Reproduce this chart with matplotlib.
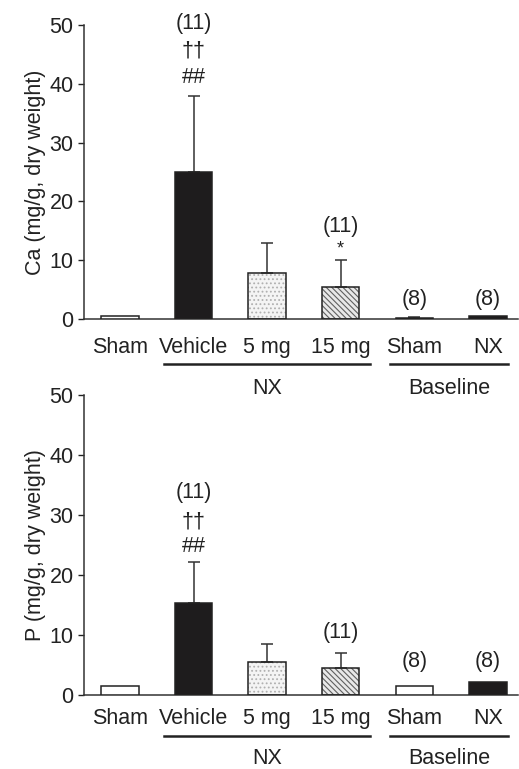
import matplotlib
matplotlib.use("Agg")
import matplotlib.pyplot as plt
import matplotlib.transforms as mtransforms

plt.rcParams['font.family'] = ['Liberation Sans', 'DejaVu Sans']
plt.rcParams['hatch.linewidth'] = 0.8

# ---- data ----
categories = ["Sham", "Vehicle", "5 mg", "15 mg", "Sham", "NX"]
ca_mean = [0.45, 25.0, 7.8, 5.5, 0.2, 0.5]
ca_err = [0.0, 13.0, 5.2, 4.6, 0.2, 0.0]
p_mean = [1.45, 15.3, 5.55, 4.5, 1.45, 2.2]
p_err = [0.0, 6.9, 2.9, 2.45, 0.0, 0.0]
ylabels = ["Ca (mg/g, dry weight)", "P (mg/g, dry weight)"]
yticks = [0, 10, 20, 30, 40, 50]
groups = ["NX", "Baseline"]
group_spans = [(0.60, 3.40), (3.67, 5.27)]

# annotations: (bar index, y value, text)
ca_annots = [(1, 50.2, "(11)"), (1, 45.6, "††"), (1, 41.0, "##"),
             (3, 15.7, "(11)"), (3, 12.0, "*"),
             (4, 3.4, "(8)"), (5, 3.4, "(8)")]
p_annots = [(1, 33.7, "(11)"), (1, 28.8, "††"), (1, 24.8, "##"),
            (3, 10.4, "(11)"), (4, 5.6, "(8)"), (5, 5.6, "(8)")]

# ---- style ----
FS = 15.5
faces = ["white", "#1e1c1d", "#f4f4f4", "#e8e8e8", "white", "#1e1c1d"]
hatches = [None, None, "....", "\\\\\\\\\\\\", None, None]
hatch_colors = [None, None, "#b0b0b0", "#606060", None, None]
bar_w = 0.51

fig = plt.figure(figsize=(5.19, 7.69), dpi=100)
ax1 = fig.add_axes([0.162, 0.585, 0.836, 0.3825])
ax2 = fig.add_axes([0.162, 0.0962, 0.836, 0.390])
ax2.patch.set_visible(False)
ax1.set_zorder(2)

panels = [(ax1, ca_mean, ca_err, ca_annots, ylabels[0], -0.151, -0.236, 13),
          (ax2, p_mean, p_err, p_annots, ylabels[1], -0.1357, -0.213, 9)]

for ax, means, errs, annots, ylab, line_y, lab_y, pad in panels:
    x = list(range(len(categories)))
    for i in x:
        if hatches[i]:
            ax.bar(x[i], means[i], width=bar_w, color=faces[i], edgecolor=hatch_colors[i],
                   hatch=hatches[i], linewidth=0, zorder=2)
            ax.bar(x[i], means[i], width=bar_w, color='none', edgecolor='#222222',
                   linewidth=1.1, zorder=3)
        else:
            ax.bar(x[i], means[i], width=bar_w, color=faces[i], edgecolor='#222222',
                   linewidth=1.1, zorder=3)
    ex = [i for i in x if errs[i] > 0]
    ax.errorbar(ex, [means[i] for i in ex],
                yerr=[[0] * len(ex), [errs[i] for i in ex]],
                fmt='none', ecolor='#333333', elinewidth=1.1, capsize=4.5,
                capthick=1.1, zorder=2)
    ax.set_xlim(-0.49, 5.41)
    ax.set_ylim(0, 50)
    ax.set_yticks(yticks)
    ax.set_xticks(x)
    ax.set_xticklabels(categories)
    ax.tick_params(axis='x', length=0, pad=pad, labelsize=FS, colors='#222222')
    ax.tick_params(axis='y', length=4, width=1, labelsize=FS, colors='#222222', direction='out')
    for s in ['top', 'right']:
        ax.spines[s].set_visible(False)
    for s in ['left', 'bottom']:
        ax.spines[s].set_linewidth(1.1)
        ax.spines[s].set_color('#333333')
    ax.set_ylabel(ylab, fontsize=FS, color='#222222', labelpad=2.5)
    for i, yv, t in annots:
        fs = 13 if t in ("*",) else FS
        ax.text(i, yv, t, ha='center', va='center', fontsize=fs, color='#222222', clip_on=False)
    trans = mtransforms.blended_transform_factory(ax.transData, ax.transAxes)
    for (a, b), g in zip(group_spans, groups):
        ax.plot([a, b], [line_y, line_y], color='#222222', lw=1.8, transform=trans, clip_on=False)
        ax.text((a + b) / 2, lab_y, g, ha='center', va='center', fontsize=FS,
                color='#222222', transform=trans)

fig.savefig("out.png", dpi=100)
